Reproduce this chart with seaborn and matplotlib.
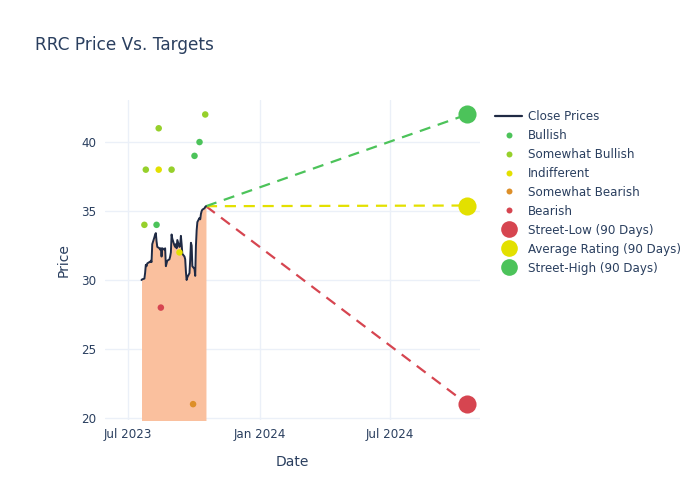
import pandas as pd
import seaborn as sns
import matplotlib.pyplot as plt
import matplotlib.dates as mdates
from matplotlib.lines import Line2D

# Close prices (business days from 2023-07-20)
close = [30.0, 30.05, 30.1, 30.5, 31.1, 31.0, 31.2, 31.3, 31.3, 31.4, 31.3, 32.6, 33.1,
         33.3, 33.4, 32.8, 32.4, 32.3, 32.2, 32.3, 31.7, 32.3, 32.2, 32.3, 31.0, 31.2,
         31.4, 31.5, 31.7, 32.0, 33.3, 33.0, 32.5, 32.4, 32.6, 32.3, 32.9, 32.4, 32.5,
         33.2, 32.6, 31.9, 31.7, 31.5, 30.6, 30.0, 30.2, 30.5, 31.5, 32.7, 32.5, 31.0,
         30.8, 30.3, 32.5, 33.6, 34.2, 34.5, 34.4, 34.8, 35.0, 35.1, 35.2, 35.3, 35.35]
dates = pd.bdate_range("2023-07-20", periods=len(close))

# Analyst ratings
rating_dates = ["2023-10-17", "2023-08-13", "2023-07-26", "2023-08-31", "2023-07-24",
                "2023-10-09", "2023-10-02", "2023-08-10",
                "2023-08-13", "2023-09-11",
                "2023-08-16",
                "2023-09-30"]
rating_prices = [42, 41, 38, 38, 34,
                 40, 39, 34,
                 38, 32,
                 28,
                 21]
rating_kind = ["Somewhat Bullish"] * 5 + ["Bullish"] * 3 + ["Indifferent"] * 2 + \
              ["Bearish"] + ["Somewhat Bearish"]

# Street targets (90 days)
target_date = "2024-10-17"
target_names = ["Street-Low (90 Days)", "Average Rating (90 Days)", "Street-High (90 Days)"]
target_values = [21.0, 35.4, 42.0]

kind_colors = {
    "Bullish": "#4cc35a",
    "Somewhat Bullish": "#96d02b",
    "Indifferent": "#e3e000",
    "Somewhat Bearish": "#dd8f29",
    "Bearish": "#d64550",
}
target_colors = ["#d64550", "#e3e000", "#4cc35a"]

txt = "#2a3f5f"
sns.set_theme(style="white")
plt.rcParams["font.family"] = ["DejaVu Sans"]

fig = plt.figure(figsize=(7, 5), dpi=100)
ax = fig.add_axes([0.15, 0.16, 0.536, 0.64])

df_close = pd.DataFrame({"date": dates, "close": close})
ax.fill_between(df_close["date"], df_close["close"], 0, color="#fac09e", linewidth=0, zorder=1)
sns.lineplot(data=df_close, x="date", y="close", color="#1f2a44", linewidth=1.4, ax=ax, zorder=3)

df_r = pd.DataFrame({"date": pd.to_datetime(rating_dates), "price": rating_prices, "kind": rating_kind})
sns.scatterplot(data=df_r, x="date", y="price", hue="kind", palette=kind_colors, s=22,
                linewidth=0, legend=False, ax=ax, zorder=4)

last_date = dates[-1]
last_close = close[-1]
for name, val, col in zip(target_names, target_values, target_colors):
    seg = pd.DataFrame({"date": [last_date, pd.Timestamp(target_date)], "price": [last_close, val]})
    sns.lineplot(data=seg, x="date", y="price", color=col, linewidth=1.6, linestyle=(0, (5, 3.5)),
                 ax=ax, zorder=2)
    sns.scatterplot(x=[pd.Timestamp(target_date)], y=[val], color=col, s=170, linewidth=0,
                    ax=ax, zorder=5)

ax.set_xlim(pd.Timestamp("2023-05-30"), pd.Timestamp("2024-11-04"))
ax.set_ylim(19.85, 43.05)
ax.set_yticks([20, 25, 30, 35, 40])
xt = pd.to_datetime(["2023-07-01", "2024-01-01", "2024-07-01"])
ax.set_xticks(xt)
ax.xaxis.set_major_formatter(mdates.DateFormatter("%b %Y"))
ax.grid(True, color="#ebf0f8", linewidth=1)
ax.set_axisbelow(True)
for s in ax.spines.values():
    s.set_visible(False)
ax.tick_params(axis="both", length=0, labelsize=8.6, colors=txt, pad=6)
ax.set_xlabel("Date", fontsize=10, color=txt, labelpad=10)
ax.set_ylabel("Price", fontsize=10, color=txt, labelpad=8)

fig.text(0.05, 1 - 45 / 500, "RRC Price Vs. Targets", fontsize=12.2, color=txt, va="center")

handles = [Line2D([], [], color="#1f2a44", linewidth=1.6)]
labels = ["Close Prices"]
for k in ["Bullish", "Somewhat Bullish", "Indifferent", "Somewhat Bearish", "Bearish"]:
    handles.append(Line2D([], [], linestyle="", marker="o", markersize=4.3,
                          markerfacecolor=kind_colors[k], markeredgewidth=0))
    labels.append(k)
for name, col in zip(target_names, target_colors):
    handles.append(Line2D([], [], linestyle="", marker="o", markersize=12,
                          markerfacecolor=col, markeredgewidth=0))
    labels.append(name)
leg = fig.legend(handles, labels, loc="upper left", bbox_to_anchor=(0.7, 0.79),
                 frameon=False, fontsize=8.6, labelspacing=0.5, handlelength=2.3,
                 handletextpad=0.5, borderaxespad=0)
for t in leg.get_texts():
    t.set_color(txt)

fig.savefig("out.png", dpi=100)
